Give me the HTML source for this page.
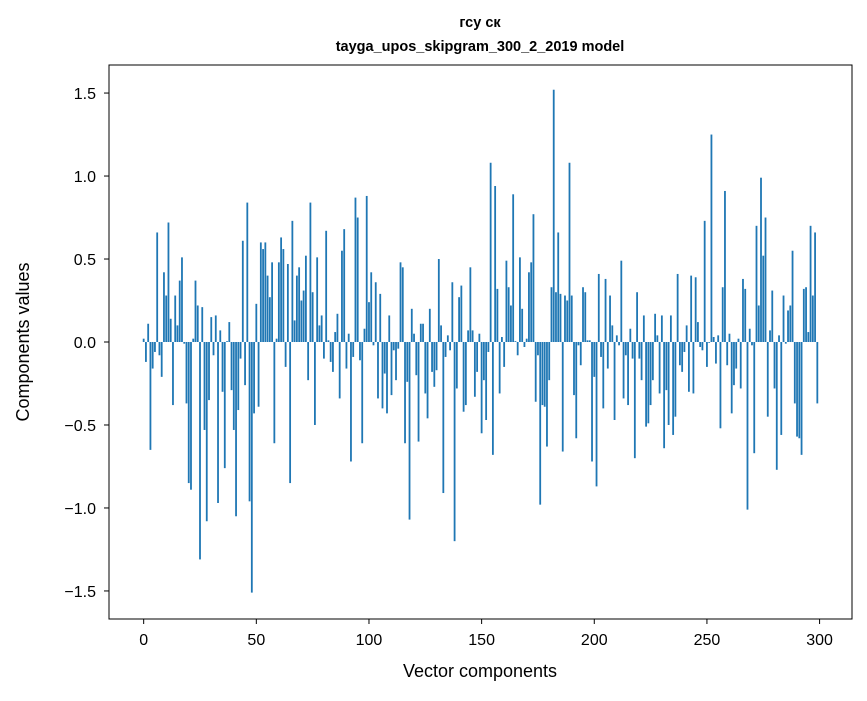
<!DOCTYPE html>
<html><head><meta charset="utf-8"><style>
body{margin:0;background:#fff;}
svg text{font-family:"Liberation Sans","DejaVu Sans",sans-serif;fill:#000;}
</style></head><body>
<svg id="chart" width="867" height="696" xmlns="http://www.w3.org/2000/svg">
<rect width="867" height="696" fill="#fff"/>
<text x="480" y="27" text-anchor="middle" font-size="14.5" font-weight="bold">гсу ск</text>
<text x="480" y="51" text-anchor="middle" font-size="14.5" font-weight="bold">tayga_upos_skipgram_300_2_2019 model</text>
<g id="bars"></g>
<g id="xticks"></g>
<g id="yticks"></g>
<rect x="109" y="65" width="743" height="554" fill="none" stroke="#000" stroke-width="1"/>
<text x="480" y="677" text-anchor="middle" font-size="18">Vector components</text>
<text transform="translate(29,342) rotate(-90)" text-anchor="middle" font-size="18">Components values</text>
</svg>
<script>
const values = [
0.02,-0.12,0.11,-0.65,-0.16,-0.06,0.66,-0.08,-0.21,0.42,
0.28,0.72,0.14,-0.38,0.28,0.10,0.37,0.51,-0.01,-0.37,
-0.85,-0.89,0.02,0.37,0.22,-1.31,0.21,-0.53,-1.08,-0.35,
0.15,-0.08,0.16,-0.97,0.07,-0.30,-0.76,0.005,0.12,-0.29,
-0.53,-1.05,-0.41,-0.10,0.61,-0.26,0.84,-0.96,-1.51,-0.43,
0.23,-0.39,0.60,0.56,0.60,0.40,0.27,0.48,-0.61,0.02,
0.48,0.63,0.56,-0.15,0.47,-0.85,0.73,0.13,0.40,0.45,
0.25,0.31,0.52,-0.23,0.84,0.30,-0.50,0.51,0.10,0.16,
-0.10,0.67,0.01,-0.12,-0.18,0.06,0.17,-0.34,0.55,0.68,
-0.16,0.05,-0.72,-0.09,0.87,0.75,-0.11,-0.61,0.08,0.88,
0.24,0.42,-0.02,0.36,-0.34,0.29,-0.40,-0.19,-0.43,0.16,
-0.32,-0.05,-0.23,-0.04,0.48,0.45,-0.61,-0.24,-1.07,0.20,
0.05,-0.20,-0.60,0.11,0.11,-0.31,-0.46,0.20,-0.18,-0.27,
-0.17,0.50,0.10,-0.91,-0.09,0.04,-0.05,0.36,-1.20,-0.28,
0.27,0.34,-0.42,-0.38,0.07,0.45,0.07,-0.33,-0.18,0.05,
-0.55,-0.23,-0.47,-0.06,1.08,-0.68,0.94,0.32,-0.31,0.03,
-0.15,0.49,0.33,0.22,0.89,0.005,-0.08,0.51,0.20,-0.03,
0.02,0.42,0.48,0.77,-0.36,-0.08,-0.98,-0.38,-0.39,-0.63,
-0.23,0.33,1.52,0.30,0.66,0.29,-0.66,0.28,0.25,1.08,
0.28,-0.32,-0.58,-0.02,-0.14,0.33,0.30,0.01,0.01,-0.72,
-0.21,-0.87,0.41,-0.09,-0.40,0.38,-0.16,0.28,0.10,-0.47,
0.04,-0.02,0.49,-0.34,-0.08,-0.38,0.08,-0.10,-0.70,0.30,
-0.10,-0.23,0.16,-0.51,-0.49,-0.38,-0.23,0.17,0.04,-0.31,
0.16,-0.64,-0.29,-0.50,0.16,-0.56,-0.45,0.41,-0.14,-0.18,
-0.06,0.10,-0.30,0.40,-0.31,0.39,0.12,-0.03,-0.05,0.73,
-0.15,-0.005,1.25,0.03,-0.13,0.04,-0.52,0.33,0.91,-0.14,
0.05,-0.43,-0.26,-0.16,0.02,-0.28,0.38,0.32,-1.01,0.08,
-0.02,-0.67,0.70,0.22,0.99,0.52,0.75,-0.45,0.07,0.31,
-0.28,-0.77,0.04,-0.56,0.28,-0.01,0.19,0.22,0.55,-0.37,
-0.57,-0.58,-0.68,0.32,0.33,0.06,0.70,0.28,0.66,-0.37
];
const xTickValues = [0,50,100,150,200,250,300];
const yTickValues = [-1.5,-1.0,-0.5,0.0,0.5,1.0,1.5];
const yTickLabels = ["\u22121.5","\u22121.0","\u22120.5","0.0","0.5","1.0","1.5"];

const X0 = 109, X1 = 852, XMIN = -15.39, XMAX = 314.39;
const Y0 = 619, Y1 = 65, YMIN = -1.669, YMAX = 1.669;
function xs(v){ return X0 + (v - XMIN) / (XMAX - XMIN) * (X1 - X0); }
function ys(v){ return Y0 - (v - YMIN) / (YMAX - YMIN) * (Y0 - Y1); }
const NS = "http://www.w3.org/2000/svg";
const gb = document.getElementById('bars');
values.forEach((v, i) => {
  const r = document.createElementNS(NS, 'rect');
  const xl = xs(i - 0.4), xr = xs(i + 0.4);
  const y0 = ys(0), y1 = ys(v);
  r.setAttribute('x', xl);
  r.setAttribute('width', xr - xl);
  r.setAttribute('y', Math.min(y0, y1));
  r.setAttribute('height', Math.abs(y1 - y0));
  r.setAttribute('fill', '#1f77b4');
  
  
  gb.appendChild(r);
});
const gx = document.getElementById('xticks');
xTickValues.forEach(t => {
  const x = xs(t);
  const l = document.createElementNS(NS, 'line');
  l.setAttribute('x1', x); l.setAttribute('x2', x);
  l.setAttribute('y1', Y0); l.setAttribute('y2', Y0 + 5);
  l.setAttribute('stroke', '#000');
  
  
  gx.appendChild(l);
  const tx = document.createElementNS(NS, 'text');
  tx.setAttribute('x', x); tx.setAttribute('y', Y0 + 26);
  tx.setAttribute('text-anchor', 'middle');
  tx.setAttribute('font-size', '16');
  tx.textContent = String(t);
  
  
  gx.appendChild(tx);
});
const gy = document.getElementById('yticks');
yTickValues.forEach((t, k) => {
  const y = ys(t);
  const l = document.createElementNS(NS, 'line');
  l.setAttribute('x1', X0 - 5); l.setAttribute('x2', X0);
  l.setAttribute('y1', y); l.setAttribute('y2', y);
  l.setAttribute('stroke', '#000');
  
  
  gy.appendChild(l);
  const tx = document.createElementNS(NS, 'text');
  tx.setAttribute('x', X0 - 13); tx.setAttribute('y', y + 6);
  tx.setAttribute('text-anchor', 'end');
  tx.setAttribute('font-size', '16');
  tx.textContent = yTickLabels[k];
  
  
  gy.appendChild(tx);
});
</script>
</body></html>
